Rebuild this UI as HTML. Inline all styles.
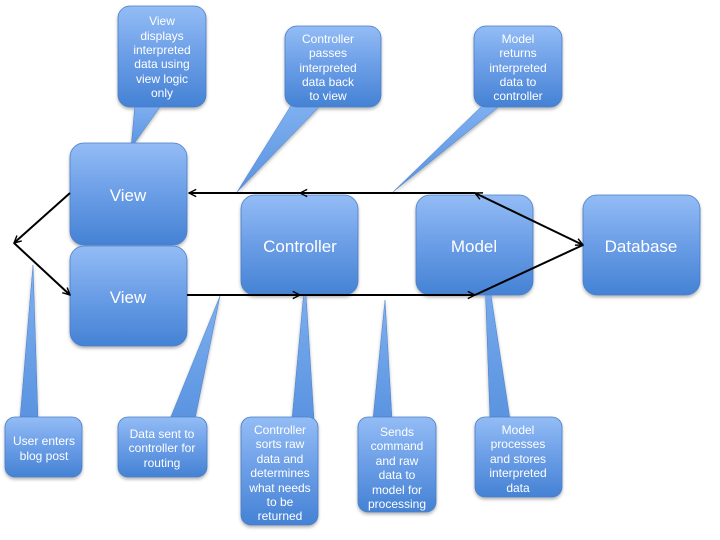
<!DOCTYPE html>
<html><head><meta charset="utf-8"><style>
html,body{margin:0;padding:0;background:#fff}
svg{display:block}
text{font-family:"Liberation Sans",sans-serif;fill:#fff;text-anchor:middle}
</style></head><body>
<svg width="720" height="540" viewBox="0 0 720 540">
<defs>
<linearGradient id="g" x1="0" y1="0" x2="0" y2="1">
<stop offset="0" stop-color="#93bcf5"/><stop offset="0.5" stop-color="#6a9de6"/><stop offset="1" stop-color="#4582d4"/></linearGradient>
<linearGradient id="gp" x1="0" y1="0" x2="0" y2="1">
<stop offset="0" stop-color="#7fb0f0"/><stop offset="1" stop-color="#5a93e0"/></linearGradient>
<filter id="s" x="-20%" y="-20%" width="140%" height="140%"><feDropShadow dx="0" dy="2" stdDeviation="1.5" flood-color="#000" flood-opacity="0.3"/></filter>
<marker id="a" viewBox="0 0 10 10" refX="9" refY="5" markerWidth="9" markerHeight="9" orient="auto-start-reverse" markerUnits="userSpaceOnUse"><path d="M1,1 L9,5 L1,9" fill="none" stroke="#000" stroke-width="1.6"/></marker>
</defs>
<g filter="url(#s)">
<!-- pointers -->
<g fill="url(#gp)" stroke="#4a7fc8" stroke-width="0.5">
<polygon points="135,104 162,104 131,148"/>
<polygon points="292,104 322,104 237,192"/>
<polygon points="484,104 502,104 393,192"/>
<polygon points="20,419 38,419 33,265"/>
<polygon points="170,419 195,419 220,296"/>
<polygon points="292,419 314,419 305,280"/>
<polygon points="373,419 392,419 385,300"/>
<polygon points="490,419 510,419 484,250"/>
</g>
<g fill="url(#g)" stroke="#4a7fc8" stroke-width="0.8">
<rect x="70" y="143" width="117" height="102" rx="14"/>
<rect x="70" y="246" width="117" height="100" rx="14"/>
<rect x="241" y="195" width="117" height="100" rx="14"/>
<rect x="416" y="195" width="117" height="100" rx="14"/>
<rect x="583" y="195" width="117" height="100" rx="14"/>
<rect x="118" y="6" width="88" height="101" rx="12"/>
<rect x="285" y="26" width="96" height="81" rx="12"/>
<rect x="474" y="26" width="88" height="81" rx="12"/>
<rect x="5" y="417" width="77" height="60" rx="10"/>
<rect x="118" y="417" width="89" height="60" rx="10"/>
<rect x="241" y="417" width="77" height="108" rx="10"/>
<rect x="358" y="417" width="78" height="95" rx="10"/>
<rect x="475" y="417" width="87" height="80" rx="10"/>
</g>
</g>
<g font-size="17">
<text x="128" y="201">View</text>
<text x="128" y="303">View</text>
<text x="300" y="252">Controller</text>
<text x="474" y="252">Model</text>
<text x="641" y="252">Database</text>
</g>
<g font-size="12">
<text x="162" y="25">View</text><text x="162" y="40">displays</text><text x="162" y="54">interpreted</text><text x="162" y="68">data using</text><text x="162" y="83">view logic</text><text x="162" y="97">only</text>
<text x="328" y="43">Controller</text><text x="328" y="57">passes</text><text x="328" y="72">interpreted</text><text x="328" y="86">data back</text><text x="328" y="100">to view</text>
<text x="518" y="43">Model</text><text x="518" y="57">returns</text><text x="518" y="72">interpreted</text><text x="518" y="86">data to</text><text x="518" y="100">controller</text>
<text x="44" y="445">User enters</text><text x="44" y="460">blog post</text>
<text x="162" y="438">Data sent to</text><text x="162" y="452">controller for</text><text x="162" y="467">routing</text>
<text x="280" y="434">Controller</text><text x="280" y="448">sorts raw</text><text x="280" y="463">data and</text><text x="280" y="477">determines</text><text x="280" y="492">what needs</text><text x="280" y="506">to be</text><text x="280" y="520">returned</text>
<text x="397" y="436">Sends</text><text x="397" y="450">command</text><text x="397" y="465">and raw</text><text x="397" y="479">data to</text><text x="397" y="494">model for</text><text x="397" y="508">processing</text>
<text x="518" y="434">Model</text><text x="518" y="448">processes</text><text x="518" y="463">and stores</text><text x="518" y="477">interpreted</text><text x="518" y="492">data</text>
</g>
<g stroke="#000" stroke-width="2" fill="none">
<line x1="475" y1="193" x2="189" y2="193" marker-end="url(#a)"/>
<line x1="310" y1="193" x2="300" y2="193" marker-end="url(#a)"/>
<line x1="187" y1="295" x2="300" y2="295"/>
<line x1="280" y1="295" x2="300" y2="295" marker-end="url(#a)"/>
<line x1="300" y1="295" x2="475" y2="295" marker-end="url(#a)"/>
<line x1="475" y1="193" x2="583" y2="245" marker-start="url(#a)" marker-end="url(#a)"/>
<line x1="475" y1="295" x2="583" y2="245"/>
<line x1="70" y1="193" x2="14" y2="243" marker-end="url(#a)"/>
<line x1="14" y1="243" x2="70" y2="295" marker-end="url(#a)"/>
</g>
</svg>
</body></html>
